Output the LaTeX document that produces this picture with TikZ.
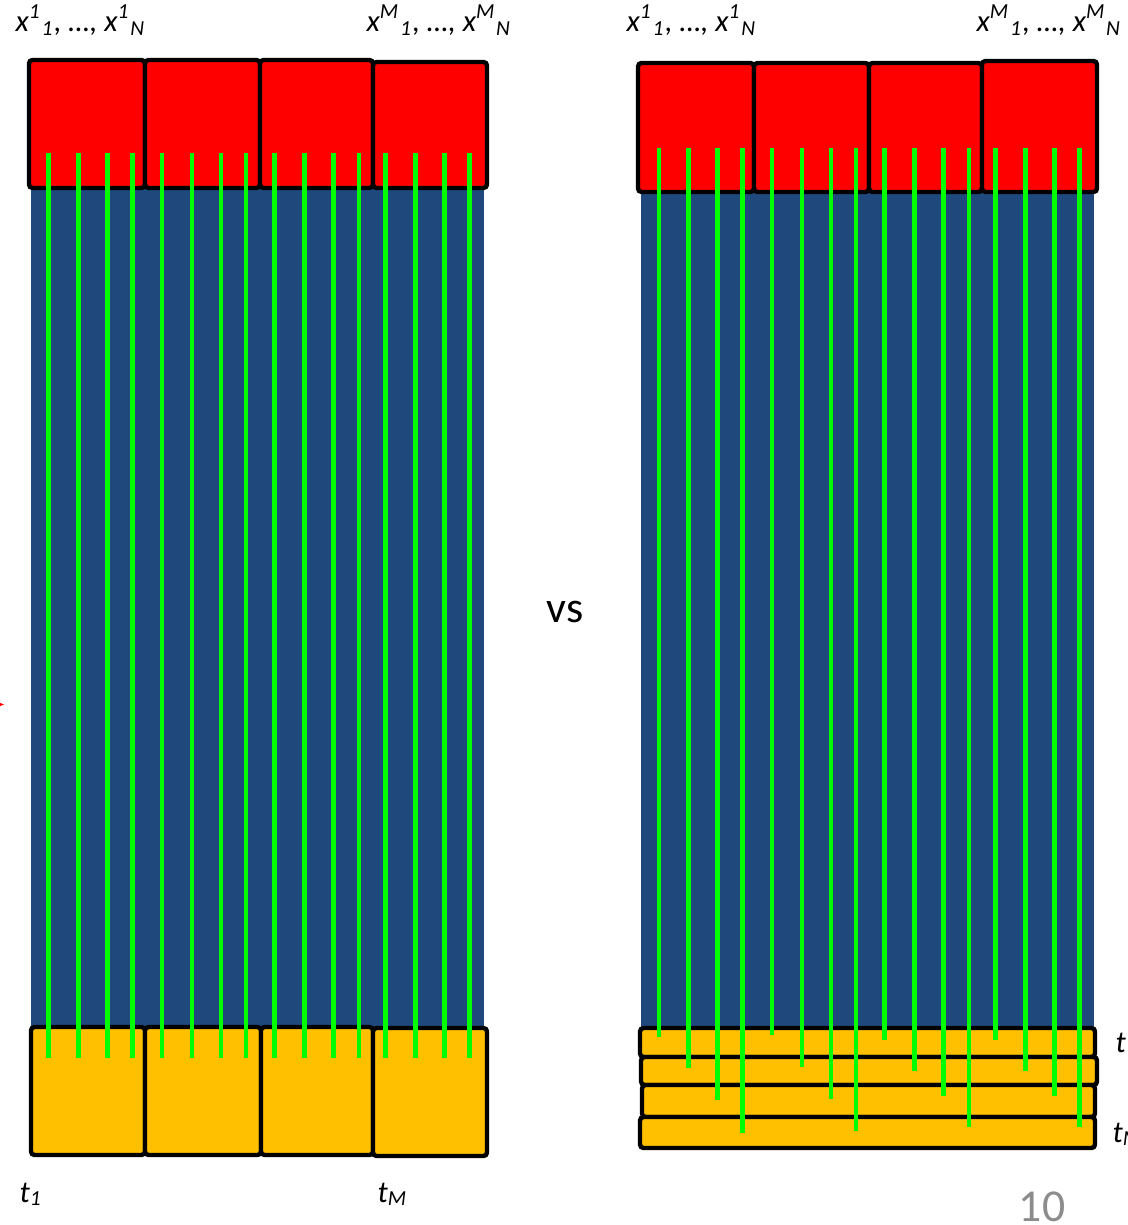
\documentclass[tikz,border=0pt]{standalone}
\usepackage{fontspec}
\setmainfont{Carlito}
\usepackage{xcolor}
\definecolor{xred}{RGB}{255,0,0}
\definecolor{xblue}{RGB}{31,73,125}
\definecolor{xgold}{RGB}{255,192,0}
\definecolor{xgreen}{RGB}{0,255,0}
\definecolor{pagegray}{RGB}{140,140,140}

\begin{document}
\begin{tikzpicture}[
  x=0.01cm, y=-0.01cm,
  lbl/.style={inner sep=0pt, anchor=base west, font=\fontsize{8.7}{10}\selectfont\itshape},
  inbox/.style={draw, line width=1.25pt, fill=xred, rounded corners=1pt},
  outbox/.style={draw, line width=1.25pt, fill=xgold, rounded corners=1pt},
  body/.style={fill=xblue},
  fiber/.style={draw=xgreen, line width=1.4pt}
]
\useasboundingbox (0,0) rectangle (1128,1225);
\clip (0,0) rectangle (1128,1225);

% left panel
\fill[body] (31,188) rectangle (484,1027);
\draw[inbox] (29,60) rectangle (145,188);
\draw[inbox] (145,60) rectangle (260,188);
\draw[inbox] (260,60) rectangle (373,188);
\draw[inbox] (373,62) rectangle (487,188);
\draw[outbox] (31,1027) rectangle (145,1155);
\draw[outbox] (145,1027) rectangle (261,1155);
\draw[outbox] (261,1027) rectangle (373,1155);
\draw[outbox] (373,1028) rectangle (487,1156);
\foreach \x in {48.7,78.7,107.7,132.7,162,192,221,246,274.7,304.3,333.7,359,385.3,415.3,444.3,469.3}
  \draw[fiber] (\x,153) -- (\x,1058);

\node[lbl] (lxa) at (15,32) {x\textsuperscript{1}\textsubscript{1}, …, x\textsuperscript{1}\textsubscript{N}};
\node[lbl] (lxm) at (366,32) {x\textsuperscript{M}\textsubscript{1}, …, x\textsuperscript{M}\textsubscript{N}};
\node[lbl] (lta) at (19,1202) {t\textsubscript{1}};
\node[lbl] (ltm) at (377,1202) {t\textsubscript{M}};

% right panel
\fill[body] (641,192) rectangle (1094,1030);
\draw[inbox] (638,63) rectangle (754,192);
\draw[inbox] (754,63) rectangle (869,192);
\draw[inbox] (869,63) rectangle (982,192);
\draw[inbox] (982,61) rectangle (1097,192);
\draw[outbox] (640,1028) rectangle (1095,1057);
\draw[outbox] (641,1057) rectangle (1097,1085);
\draw[outbox] (642,1085) rectangle (1095,1117);
\draw[outbox] (640,1117) rectangle (1095,1148);
\foreach \x/\e in {659/1037,688.7/1068,717.7/1100,742.7/1133,
                   772/1035,802/1067,831/1099,856/1131,
                   884.7/1040,914.3/1071,943.7/1096,969/1127,
                   995.3/1040,1025.3/1071,1054.3/1096,1079.3/1127}
  \draw[fiber] (\x,148) -- (\x,\e);

\node[lbl] (rxa) at (626,32) {x\textsuperscript{1}\textsubscript{1}, …, x\textsuperscript{1}\textsubscript{N}};
\node[lbl] (rxm) at (976,32) {x\textsuperscript{M}\textsubscript{1}, …, x\textsuperscript{M}\textsubscript{N}};
\node[lbl] (rta) at (1115,1052) {t\textsubscript{1}};
\node[lbl] (rtm) at (1112,1142) {t\textsubscript{M}};

% middle and page number
\node[inner sep=0pt, font=\fontsize{12.5}{14}\selectfont] (vs) at (565,612) {vs};
\node[inner sep=0pt, anchor=base east, font=\fontsize{13}{15}\selectfont, text=pagegray] (pg) at (1066,1221) {10};

% cut-off arrow tip at the left edge
\fill[xred] (-7,700) -- (4,704.5) -- (-7,709) -- cycle;
\end{tikzpicture}
\end{document}
